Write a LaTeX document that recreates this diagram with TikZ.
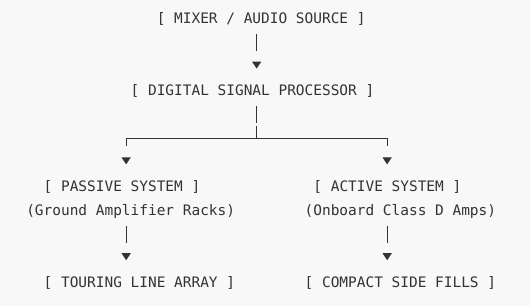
\documentclass[tikz,border=0pt]{standalone}
\usepackage{fontspec}
\setmonofont{DejaVu Sans Mono}
\usetikzlibrary{arrows.meta}
\definecolor{ink}{HTML}{333333}
\definecolor{paper}{HTML}{F8F8F8}

\begin{document}
\begin{tikzpicture}[
  x=8.7pt,y=-23.95pt,
  txt/.style={anchor=base west,inner sep=0pt,text height=11pt,text depth=3.5pt,
    text=ink,font=\ttfamily\fontsize{14.45}{17}\selectfont},
  wire/.style={draw=ink,line width=1pt},
  drop/.style={wire,dash pattern=on 17pt off 60pt,shorten <=6.65pt,shorten >=16pt,
    -{Triangle[width=9pt,length=7pt]}},
  branch/.style={drop,dash pattern=on 138.1pt off 100pt,shorten <=0pt}]
\fill[paper] (0pt,0pt) rectangle (530pt,-306pt);
\useasboundingbox (0pt,0pt) rectangle (530pt,-306pt);
% columns of the bars
\coordinate (trunk) at (29.5,0);
\coordinate (lcol) at (14.5,0);
\coordinate (rcol) at (44.5,0);
\coordinate (split) at (29.5,5.779);
% text rows
\node[txt] (src) at (18,1) {[ MIXER / AUDIO SOURCE ]};
\node[txt] (dsp) at (15,4) {[ DIGITAL SIGNAL PROCESSOR ]};
\node[txt] (passive) at (5,8) {[ PASSIVE SYSTEM ]};
\node[txt] (passivenote) at (3,9) {(Ground Amplifier Racks)};
\node[txt] (linearray) at (5,12) {[ TOURING LINE ARRAY ]};
\node[txt] (active) at (36,8) {[ ACTIVE SYSTEM ]};
\node[txt] (activenote) at (35,9) {(Onboard Class D Amps)};
\node[txt] (sidefills) at (35,12) {[ COMPACT SIDE FILLS ]};
% connectors
\draw[drop] (src.south -| trunk) -- (dsp.north -| trunk);
\draw[wire,dash pattern=on 17pt off 3pt on 40pt,shorten <=6.65pt] (dsp.south -| trunk) -- (split);
\draw[branch] (split) -| (passive.north -| lcol);
\draw[branch] (split) -| (active.north -| rcol);
\draw[drop] (passivenote.south -| lcol) -- (linearray.north -| lcol);
\draw[drop] (activenote.south -| rcol) -- (sidefills.north -| rcol);
\end{tikzpicture}
\end{document}
